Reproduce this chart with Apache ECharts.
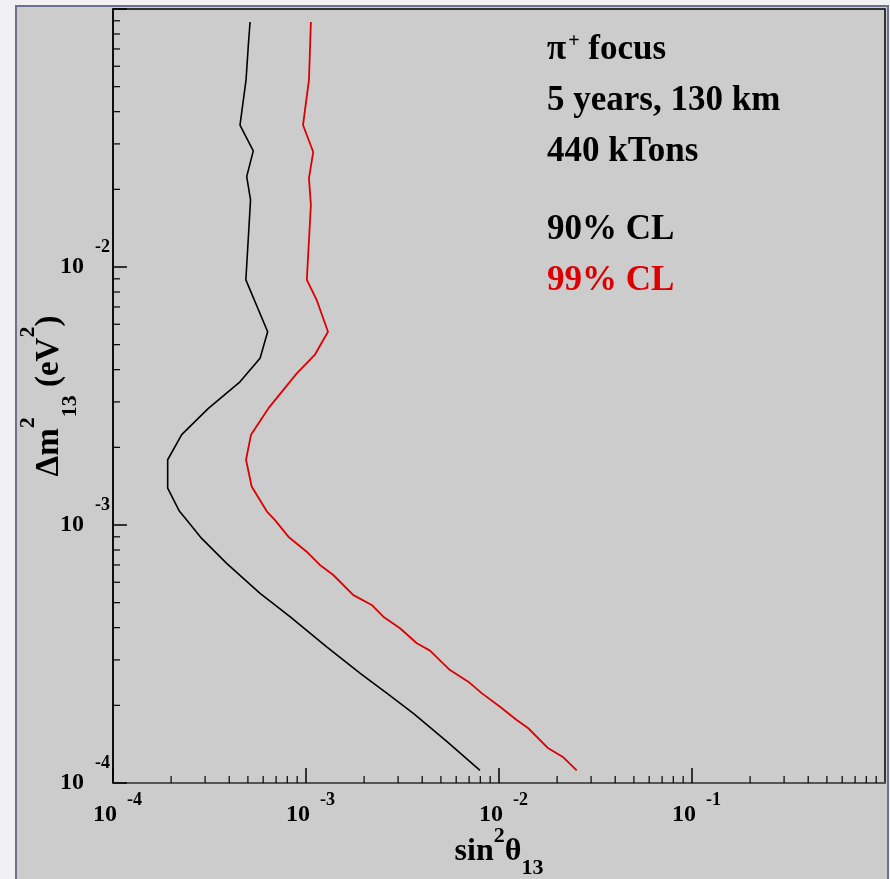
<!DOCTYPE html>
<html><head><meta charset="utf-8">
<script src="https://cdn.jsdelivr.net/npm/echarts@6/dist/echarts.min.js"></script>
<style>
html,body{margin:0;padding:0;width:890px;height:879px;overflow:hidden;background:#f1f1f4;}
#frame{position:absolute;left:15px;top:5px;width:870px;height:880px;background:#cccccc;border:2px solid #6f6f90;}
#chart{position:absolute;left:0;top:0;width:890px;height:879px;}
</style></head><body>
<div id="frame"></div><div id="chart"></div>
<script>
// ---- axis ranges & ticks ----
const X_MIN = 1e-4, X_MAX = 1;
const Y_MIN = 1e-4, Y_MAX = 1e-1;
const minorMultipliers = [2, 3, 4, 5, 6, 7, 8, 9];
const xDecades = [1e-4, 1e-3, 1e-2, 1e-1];
const yDecades = [1e-4, 1e-3, 1e-2];

// ---- 90% CL contour (black) ----
const cl90_sin2 = [5.13e-4, 5.02e-4, 4.89e-4, 4.55e-4, 5.33e-4, 4.93e-4, 5.16e-4, 4.88e-4, 6.33e-4, 5.78e-4,
  4.55e-4, 3.12e-4, 2.27e-4, 1.92e-4, 1.92e-4, 2.21e-4, 2.41e-4, 2.88e-4, 3.88e-4, 5.78e-4,
  8.26e-4, 1.28e-3, 1.91e-3, 2.62e-3, 3.60e-3, 5.36e-3, 7.97e-3];
const cl90_dm2 = [0.0890, 0.0715, 0.0531, 0.0355, 0.0282, 0.0224, 0.0182, 8.91e-3, 5.61e-3, 4.43e-3,
  3.59e-3, 2.83e-3, 2.24e-3, 1.79e-3, 1.39e-3, 1.13e-3, 1.045e-3, 8.87e-4, 7.10e-4, 5.43e-4,
  4.41e-4, 3.37e-4, 2.66e-4, 2.23e-4, 1.86e-4, 1.45e-4, 1.12e-4];

// ---- 99% CL contour (red) ----
const cl99_sin2 = [1.06e-3, 1.036e-3, 9.65e-4, 1.09e-3, 1.036e-3, 1.06e-3, 1.01e-3, 1.136e-3, 1.30e-3, 1.11e-3,
  8.96e-4, 6.38e-4, 5.19e-4, 4.89e-4, 5.23e-4, 6.26e-4, 6.91e-4, 8.10e-4, 1.008e-3, 1.18e-3,
  1.385e-3, 1.76e-3, 2.19e-3, 2.515e-3, 3.07e-3, 3.75e-3, 4.39e-3, 5.57e-3, 6.93e-3, 8.13e-3,
  1.012e-2, 1.235e-2, 1.418e-2, 1.80e-2, 2.154e-2, 2.527e-2];
const cl99_dm2 = [0.0890, 0.0531, 0.0355, 0.0279, 0.0221, 0.0174, 8.91e-3, 7.45e-3, 5.61e-3, 4.56e-3,
  3.87e-3, 2.83e-3, 2.24e-3, 1.79e-3, 1.41e-3, 1.13e-3, 1.045e-3, 9.01e-4, 7.88e-4, 7.00e-4,
  6.40e-4, 5.35e-4, 4.90e-4, 4.41e-4, 3.98e-4, 3.48e-4, 3.26e-4, 2.74e-4, 2.47e-4, 2.23e-4,
  1.975e-4, 1.755e-4, 1.63e-4, 1.363e-4, 1.258e-4, 1.12e-4];

// ---- text ----
const infoLines = ['5 years, 130 km', '440 kTons'];
const legendLabels = ['90% CL', '99% CL'];

const FONT = '"Liberation Serif","Times New Roman",serif';
const RED = '#dd0000';

const xMinorTicks = [];
xDecades.forEach(d => minorMultipliers.forEach(m => xMinorTicks.push([m * d, Y_MIN])));
const yMinorTicks = [];
yDecades.forEach(d => minorMultipliers.forEach(m => yMinorTicks.push([X_MIN, m * d])));

const zip = (a, b) => a.map((v, i) => [v, b[i]]);
const expFmt = max => v => (v >= max * 0.999 ? '' : '{b|10}{s|' + Math.round(Math.log10(v)) + '}');
const base = { fontFamily: FONT, fontWeight: 'bold', color: '#000' };

const chart = echarts.init(document.getElementById('chart'), null, { renderer: 'canvas' });
chart.setOption({
  animation: false,
  backgroundColor: 'transparent',
  grid: { left: 113, top: 9, width: 772, height: 774, show: true, borderColor: '#000', borderWidth: 1.5,
          backgroundColor: 'transparent', outerBoundsMode: 'none', containLabel: false },
  xAxis: {
    type: 'log', logBase: 10, min: X_MIN, max: X_MAX, splitNumber: 4,
    name: '{a|sin}{sup|2}{a|θ}{sub|13}', nameLocation: 'middle', nameGap: 42, nameMoveOverlap: false,
    nameTextStyle: { rich: {
      a: Object.assign({}, base, { fontSize: 32, lineHeight: 54, verticalAlign: 'middle' }),
      sup: Object.assign({}, base, { fontSize: 22, lineHeight: 22, verticalAlign: 'top' }),
      sub: Object.assign({}, base, { fontSize: 22, lineHeight: 22, verticalAlign: 'bottom' })
    } },
    axisLine: { show: true, onZero: false, lineStyle: { color: '#555', width: 2 } },
    axisTick: { show: true, inside: true, length: 15, lineStyle: { color: '#000', width: 1.5 } },
    minorTick: { show: false }, splitLine: { show: false },
    axisLabel: { margin: 8, showMaxLabel: false, formatter: expFmt(X_MAX), rich: {
      b: Object.assign({}, base, { fontSize: 24, lineHeight: 48, verticalAlign: 'middle', padding: [0, 0, 0, 9] }),
      s: Object.assign({}, base, { fontSize: 18, lineHeight: 18, verticalAlign: 'top', padding: [0, 0, 0, 10] })
    } }
  },
  yAxis: {
    type: 'log', logBase: 10, min: Y_MIN, max: Y_MAX, splitNumber: 3,
    name: '{a|Δm}{sup|2}{sub|13}{a| (eV}{sup|2}{a|)}', nameLocation: 'middle', nameGap: 32, nameRotate: 90,
    nameMoveOverlap: false,
    nameTextStyle: { rich: {
      a: Object.assign({}, base, { fontSize: 33, lineHeight: 64, verticalAlign: 'middle' }),
      sup: Object.assign({}, base, { fontSize: 22, lineHeight: 22, verticalAlign: 'top' }),
      sub: Object.assign({}, base, { fontSize: 22, lineHeight: 22, verticalAlign: 'bottom' })
    } },
    axisLine: { show: true, onZero: false, lineStyle: { color: '#000', width: 1.5 } },
    axisTick: { show: true, inside: true, length: 14, lineStyle: { color: '#000', width: 1.5 } },
    minorTick: { show: false }, splitLine: { show: false },
    axisLabel: { margin: 3, showMaxLabel: false, formatter: expFmt(Y_MAX), rich: {
      b: Object.assign({}, base, { fontSize: 24, lineHeight: 57, verticalAlign: 'middle' }),
      s: Object.assign({}, base, { fontSize: 18, lineHeight: 18, verticalAlign: 'top', padding: [0, 0, 0, 11] })
    } }
  },
  graphic: [
    { type: 'text', x: 547, y: 50, silent: true, style: {
      text: '{p|π}{sup|+}{t| focus}', verticalAlign: 'middle', align: 'left',
      rich: {
        p: Object.assign({}, base, { fontSize: 35, lineHeight: 36, verticalAlign: 'middle' }),
        sup: Object.assign({}, base, { fontSize: 20, lineHeight: 12, verticalAlign: 'top', padding: [0, 0, 0, 2] }),
        t: Object.assign({}, base, { fontSize: 35, lineHeight: 36, verticalAlign: 'middle' })
      } } },
    { type: 'text', x: 547, y: 100.5, silent: true, style: { text: infoLines[0], fontFamily: FONT, fontWeight: 'bold', fontSize: 35, fill: '#000', verticalAlign: 'middle' } },
    { type: 'text', x: 547, y: 152, silent: true, style: { text: infoLines[1], fontFamily: FONT, fontWeight: 'bold', fontSize: 35, fill: '#000', verticalAlign: 'middle' } },
    { type: 'text', x: 547, y: 230, silent: true, style: { text: legendLabels[0], fontFamily: FONT, fontWeight: 'bold', fontSize: 35, fill: '#000', verticalAlign: 'middle' } },
    { type: 'text', x: 547, y: 281, silent: true, style: { text: legendLabels[1], fontFamily: FONT, fontWeight: 'bold', fontSize: 35, fill: RED, verticalAlign: 'middle' } }
  ],
  series: [
    { name: legendLabels[0], type: 'line', data: zip(cl90_sin2, cl90_dm2), showSymbol: false, symbol: 'none',
      lineStyle: { color: '#000', width: 1.6 }, z: 5 },
    { name: legendLabels[1], type: 'line', data: zip(cl99_sin2, cl99_dm2), showSymbol: false, symbol: 'none',
      lineStyle: { color: RED, width: 1.8 }, z: 5 },
    { type: 'custom', coordinateSystem: 'cartesian2d', silent: true, clip: false, data: xMinorTicks,
      encode: { x: 0, y: 1 },
      renderItem: (params, api) => {
        const p = api.coord([api.value(0), api.value(1)]);
        return { type: 'line', shape: { x1: p[0], y1: p[1], x2: p[0], y2: p[1] - 7 }, style: { stroke: '#000', lineWidth: 1.2 } };
      } },
    { type: 'custom', coordinateSystem: 'cartesian2d', silent: true, clip: false, data: yMinorTicks,
      encode: { x: 0, y: 1 },
      renderItem: (params, api) => {
        const p = api.coord([api.value(0), api.value(1)]);
        return { type: 'line', shape: { x1: p[0], y1: p[1], x2: p[0] + 7, y2: p[1] }, style: { stroke: '#000', lineWidth: 1.2 } };
      } }
  ]
});
</script></body></html>
